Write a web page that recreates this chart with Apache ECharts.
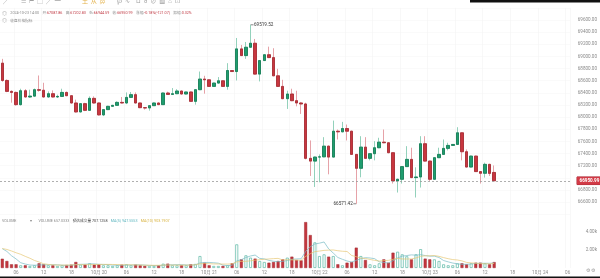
<!DOCTYPE html>
<html><head><meta charset="utf-8">
<script src="https://cdn.jsdelivr.net/npm/echarts@6/dist/echarts.min.js"></script>
<style>html,body{margin:0;padding:0;background:#fff}#c{width:600px;height:278px}</style>
</head><body><div id="c"></div><script>
const slotCount = 124; // hourly slots from 2024-10-19 03:00
const opens = [68888,68603,68423,68406,68205,68434,68331,68345,68451,68442,68331,68385,68331,68340,68406,68352,68232,68085,68221,68111,68308,68232,68036,68123,68177,68193,68242,68232,68324,68369,68232,68155,68150,68188,68232,68205,68396,68373,68385,68429,68380,68413,68259,68451,68626,68614,68505,68560,68598,68505,68767,68750,69123,69013,69150,69216,68708,68931,69027,68980,68680,68505,68303,68380,68270,68232,68216,67320,67275,67341,67345,67521,67341,67767,67757,67811,67767,67385,67156,67505,67320,67397,67495,67587,67577,67413,66948,66975,67184,67303,67003,67013,67561,67275,66975,67331,67385,67484,67533,67549,67741,67429,67177,67357,67102,67074,67221,67087.86];
const closes = [68603,68423,68406,68205,68434,68331,68345,68451,68442,68331,68385,68331,68340,68406,68352,68232,68085,68221,68111,68308,68232,68036,68123,68177,68193,68242,68232,68324,68369,68232,68155,68150,68188,68232,68205,68396,68373,68385,68429,68380,68413,68259,68451,68626,68614,68505,68560,68598,68505,68767,68750,69123,69013,69150,69216,68708,68931,69027,68980,68680,68505,68303,68380,68270,68232,68216,67320,67275,67341,67345,67521,67341,67767,67757,67811,67767,67385,67156,67505,67320,67397,67495,67587,67577,67413,66948,66975,67184,67303,67003,67013,67561,67275,66975,67331,67385,67484,67533,67549,67741,67429,67177,67357,67102,67074,67221,67072.06,66950.99];
const highs = [68959,68620,68440,68420,68467,68460,68451,68470,68685,68565,68423,68439,68369,68467,68420,68360,68287,68230,68235,68341,68341,68240,68130,68185,68200,68259,68331,68406,68413,68406,68240,68160,68195,68240,68240,68405,68418,68478,68459,68435,68420,68420,68458,68750,68680,68620,68565,68659,68605,68888,68775,69303,69188,69237,69519.52,69287,68940,69035,69160,69134,68795,68614,68434,68467,68434,68249,68237,67615,67350,67385,67669,67530,67942,67795,67921,67877,67775,67390,67685,67669,67405,67603,67659,67795,67585,67420,66985,67190,67521,67495,67172,67685,67685,67282,67340,67495,67631,67577,67556,67833,67750,67467,67365,67365,67110,67249,67230,67202.83];
const lows = [68582,68410,68237,68188,68190,68319,68314,68330,68418,68320,68319,68320,68314,68330,68345,68221,68073,68075,68098,68100,68220,68024,68016,68115,68170,68185,68225,68213,68318,68225,68148,68123,68106,68182,68198,68200,68365,68365,68378,68372,68372,68250,68205,68445,68385,68498,68498,68552,68498,68451,68743,68603,69005,68959,69140,68700,68587,68925,68972,68672,68498,68296,68134,68262,68177,68052,67303,67030,66849,66926,67338,67057,67335,67631,67750,67615,67378,66571.42,67008,67312,67287,67287,67488,67570,67405,66905,66757,66905,67178,66995,66675,66839,67268,66948,66968,67325,67378,67451,67526,67540,67287,67170,67170,67095,66905,67003,67030,66944.59];
const volumes = [1030,780,410,410,300,300,230,300,520,410,300,300,230,300,330,370,670,370,370,520,370,410,300,300,230,300,370,410,300,370,300,230,230,230,300,480,480,300,300,300,300,410,450,1330,590,300,230,230,230,300,520,2630,960,1410,1150,1040,780,670,590,670,780,960,1150,1260,890,850,5100,3660,2850,1330,1520,1260,1330,410,300,590,670,2260,1330,890,410,300,520,960,590,1700,1810,1520,1300,960,1520,2100,1040,960,960,780,410,300,300,520,520,410,520,590,590,520,410,657.0333];
const prevVolumes = [1800,2100,2400,2000,2600,2300,2800,2200,2400];
const priceTicks = {min:66400, max:69800, step:200};
const volTicks = {min:0, max:6000, step:2000};
const lastPrice = 66950.99;
const highMark = {index:54, label:'69519.52'};
const lowMark = {index:77, label:'66571.42'};

const categories = [];
const t0 = new Date(2024, 9, 19, 3, 0, 0);
for (let k = 0; k < slotCount; k++) {
  const d = new Date(t0.getTime() + k * 3600000);
  categories.push((d.getMonth()+1) + '-' + d.getDate() + ' ' + String(d.getHours()).padStart(2,'0'));
}
const hourOf = v => v.split(' ')[1];
const showLabel = (idx, v) => parseInt(hourOf(v), 10) % 6 === 0;
const fmtX = v => { const [md, h] = v.split(' '); if (h === '00') { const [m, d] = md.split('-'); return m + '月 ' + d; } return h; };

const wickData = opens.map((o, i) => [o, closes[i], lows[i], highs[i]]);
const bodyData = opens.map((o, i) => [o, closes[i], Math.min(o, closes[i]), Math.max(o, closes[i])]);
const fullVol = prevVolumes.concat(volumes);
function ma(n) {
  return volumes.map((v, i) => {
    const end = i + prevVolumes.length;
    let s = 0; for (let k = end - n + 1; k <= end; k++) s += fullVol[k];
    return +(s / n).toFixed(2);
  });
}
const volData = volumes.map((v, i) => {
  const up = closes[i] >= opens[i];
  return {value: v, itemStyle: up ? {color:'#ffffff', borderColor:'#6cbfae', borderWidth:0.8} : {color:'#c4363e', borderColor:'#9e2a30', borderWidth:0.5}};
});

const FF = 'Roboto, "Noto Sans CJK SC", sans-serif';
const chart = echarts.init(document.getElementById('c'), null, {renderer:'canvas'});
const option = {
  animation: false,
  backgroundColor: '#ffffff',
  grid: [
    {left:0, right:30, top:7.8, height:206.4},
    {left:0, right:30, top:214, height:54}
  ],
  xAxis: [
    {type:'category', gridIndex:0, data:categories, boundaryGap:true,
     axisLine:{show:false}, axisTick:{show:false}, axisLabel:{show:false},
     splitLine:{show:true, interval:showLabel, lineStyle:{color:'#f3f3f3', width:0.6}}},
    {type:'category', gridIndex:1, data:categories, boundaryGap:true,
     axisLine:{show:false}, axisTick:{show:false},
     axisLabel:{interval:showLabel, formatter:fmtX, fontSize:4.6, color:'#8a8a8a', margin:3, fontFamily:FF},
     splitLine:{show:true, interval:showLabel, lineStyle:{color:'#f3f3f3', width:0.6}}}
  ],
  yAxis: [
    {type:'value', gridIndex:0, position:'right', min:priceTicks.min, max:priceTicks.max, interval:priceTicks.step,
     axisLine:{show:false}, axisTick:{show:false},
     axisLabel:{showMinLabel:false, showMaxLabel:false, fontSize:4.6, color:'#8a8a8a', align:'right', margin:27, fontFamily:FF,
       formatter: v => v === 67000 ? '' : v.toFixed(2)},
     splitLine:{show:true, lineStyle:{color:'#f6f6f6', width:0.6}}},
    {type:'value', gridIndex:1, position:'right', min:volTicks.min, max:volTicks.max, interval:volTicks.step,
     axisLine:{show:false}, axisTick:{show:false},
     axisLabel:{showMinLabel:false, showMaxLabel:false, fontSize:4.6, color:'#8a8a8a', align:'right', margin:27, fontFamily:FF,
       formatter: v => (v/1000).toFixed(2) + 'k'},
     splitLine:{show:false}}
  ],
  series: [
    {type:'candlestick', xAxisIndex:0, yAxisIndex:0, data:wickData, barWidth:3,
     itemStyle:{color:'rgba(0,0,0,0)', color0:'rgba(0,0,0,0)', borderColor:'#93d1bb', borderColor0:'#e6a2a8', borderWidth:1}},
    {type:'candlestick', xAxisIndex:0, yAxisIndex:0, data:bodyData, barWidth:3,
     itemStyle:{color:'#1f9d6f', color0:'#c8363f', borderColor:'#137a53', borderColor0:'#a12a31', borderWidth:0.8},
     markLine:{silent:true, symbol:['none','none'],
       lineStyle:{color:'#9a9a9a', type:[2,2], width:0.8},
       label:{position:'end', distance:7, formatter:lastPrice.toFixed(2), color:'#fff', backgroundColor:'#d23a46',
         borderColor:'#a82430', borderWidth:0.5, fontSize:4.6, padding:[1.5,2.5], fontFamily:FF, fontWeight:'bold'},
       data:[{yAxis:lastPrice}]}},
    {type:'bar', xAxisIndex:1, yAxisIndex:1, data:volData, barWidth:3,
     markLine:{silent:true, symbol:['none','none'], lineStyle:{opacity:0},
       label:{position:'end', distance:7, formatter:String(Math.round(volumes[volumes.length-1])), color:'#fff', backgroundColor:'#f2b23e',
         fontSize:4.6, padding:[1.5,7.5], fontFamily:FF},
       data:[{yAxis:volumes[volumes.length-1]}]}},
    {type:'line', xAxisIndex:1, yAxisIndex:1, data:ma(5), symbol:'none', lineStyle:{color:'#78bcc6', width:0.7}},
    {type:'line', xAxisIndex:1, yAxisIndex:1, data:ma(10), symbol:'none', lineStyle:{color:'#e7c774', width:0.7}}
  ]
};
chart.setOption(option);

const hp = chart.convertToPixel({xAxisIndex:0, yAxisIndex:0}, [highMark.index, highs[highMark.index]]);
const lp = chart.convertToPixel({xAxisIndex:0, yAxisIndex:0}, [lowMark.index, lows[lowMark.index]]);
const HS = 3.7;
const hdr = {
  g:{fill:'#8a8a8a', fontSize:HS, fontFamily:FF},
  r:{fill:'#c03a44', fontSize:HS, fontFamily:FF},
  i:{fill:'#999', fontSize:5, fontFamily:FF}
};
chart.setOption({graphic:[
  {type:'rect', shape:{x:470, y:0, width:130, height:2.5}, style:{fill:'#111'}},
  {type:'rect', shape:{x:0, y:276.5, width:600, height:1.5}, style:{fill:'#111'}},
  {type:'text', left:3, top:-2, style:{text:'╱  ⌒  ☰  ⊢  □  ╱  ━', fill:'#a0a0a0', fontSize:6, fontFamily:FF}},
  {type:'text', left:82, top:-2, style:{text:'土  从  鼻', fill:'#e3b048', fontSize:6, fontFamily:'"Noto Sans CJK SC"'}},
  {type:'text', left:117, top:-2, style:{text:'℘  ∿    ⊔  ∂  ⊘  ▩  ⌂  ⊡', fill:'#a0a0a0', fontSize:6, fontFamily:FF}},
  {type:'text', left:2, top:7.5, style:{rich:hdr, text:'{i|◎} {g|2024-10-23 14:00} {g|开:}{r|67087.86} {g|高:}{r|67202.83} {g|低:}{r|66944.59} {g|收:}{r|66950.99} {g|涨幅:}{r|-0.18%(-121.07)} {g|振幅:}{r|0.32%}'}},
  {type:'text', left:2, top:15, style:{rich:hdr, text:'{i|◎} {g|收盘价格指标}'}},
  {type:'text', left:2, top:215, style:{rich:{
      g:{fill:'#8a8a8a', fontSize:HS, fontFamily:FF},
      k:{fill:'#444', fontSize:HS, fontFamily:FF},
      t:{fill:'#5db5bf', fontSize:HS, fontFamily:FF},
      y:{fill:'#d9b340', fontSize:HS, fontFamily:FF}},
    text:'{g|VOLUME}    {g|▾}  {g|VOLUME 657.0333} {k|预估成交量 707.1258} {t|MA(5) 947.5553} {y|MA(10) 903.1907}'}},
  {type:'line', shape:{x1:hp[0], y1:hp[1], x2:hp[0]+3, y2:hp[1]}, style:{stroke:'#333', lineWidth:0.6}},
  {type:'text', x:hp[0]+3.5, y:hp[1], style:{text:highMark.label, fill:'#333', fontSize:4.6, fontFamily:FF, textVerticalAlign:'middle', textAlign:'left'}},
  {type:'line', shape:{x1:lp[0]-3, y1:lp[1], x2:lp[0], y2:lp[1]}, style:{stroke:'#333', lineWidth:0.6}},
  {type:'text', x:lp[0]-3.5, y:lp[1], style:{text:lowMark.label, fill:'#333', fontSize:4.6, fontFamily:FF, textVerticalAlign:'middle', textAlign:'right'}},
  {type:'text', left:586, top:268.5, style:{text:'⚙ ⚙', fill:'#9a9a9a', fontSize:5, fontFamily:FF}}
]});
</script></body></html>
